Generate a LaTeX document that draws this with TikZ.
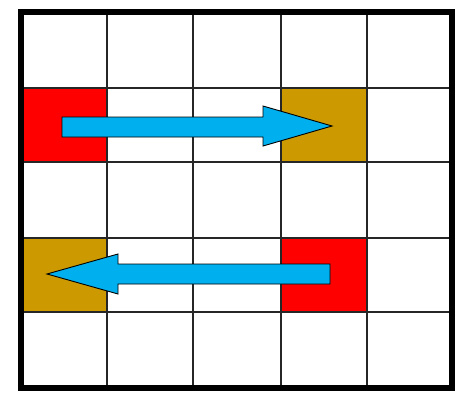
\documentclass[tikz,border=0pt]{standalone}
\begin{document}
\begin{tikzpicture}[x=1pt,y=-1pt,
  gridline/.style={draw=black!85,line width=1.4pt},
  redcell/.style={fill=red,draw=black,line width=1pt},
  goldcell/.style={fill=gold,draw=black,line width=1pt},
  bluearrow/.style={fill=skyblue,draw=black,line width=0.9pt,line join=miter},
  frame/.style={draw=black,line width=6pt}]
\definecolor{gold}{HTML}{CC9900}
\definecolor{skyblue}{HTML}{00B0EE}
\useasboundingbox (0,0) rectangle (459,402);
\fill[white] (0,0) rectangle (459,402);
% coloured cells
\path[redcell] (21,88) rectangle (107,162);
\path[goldcell] (281,88) rectangle (367,162);
\path[goldcell] (21,238) rectangle (107,312);
\path[redcell] (281,238) rectangle (367,312);
% grid lines
\foreach \x in {107,193,281,367} \draw[gridline] (\x,12) -- (\x,388);
\foreach \y in {88,162,238,312} \draw[gridline] (21,\y) -- (452,\y);
% arrows
\path[bluearrow] (62,117) -- (263,117) -- (263,106) -- (332,126) -- (263,146) -- (263,137) -- (62,137) -- cycle;
\path[bluearrow] (330,264) -- (118,264) -- (118,254) -- (47,274) -- (118,294) -- (118,284) -- (330,284) -- cycle;
% outer frame
\draw[frame] (21,12) rectangle (452,388);
\end{tikzpicture}
\end{document}
